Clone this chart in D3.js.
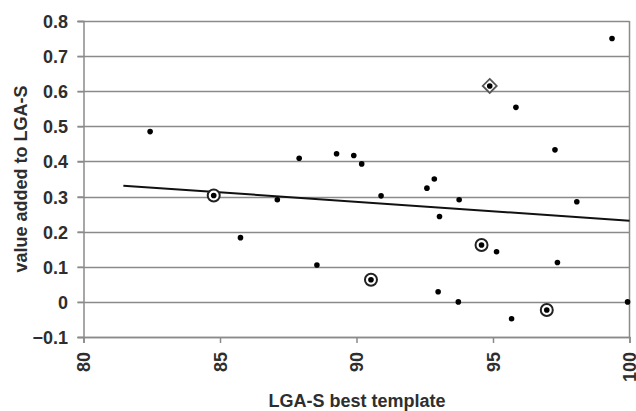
<!DOCTYPE html>
<html><head><meta charset="utf-8">
<script src="https://cdn.jsdelivr.net/npm/d3@7"></script>
<style>body{margin:0;background:#fff}svg{display:block}</style>
</head><body>
<svg id="c" width="636" height="411"></svg>
<script>
const xs = [82.44,84.77,87.10,87.90,85.75,88.55,89.27,89.90,90.19,90.90,92.58,92.85,93.76,94.88,95.84,97.27,98.07,99.36,93.04,94.58,95.13,97.36,90.53,92.99,93.73,95.68,96.97,99.93];
const ys = [0.485,0.303,0.291,0.409,0.183,0.105,0.422,0.417,0.393,0.302,0.324,0.350,0.291,0.615,0.554,0.433,0.285,0.750,0.243,0.162,0.143,0.112,0.063,0.029,0.0,-0.048,-0.023,0.0];
const markers = ["","circle","","","","","","","","","","","","diamond","","","","","","circle","","","circle","","","","circle",""];
const trendX = [81.46, 100];
const trendY = [0.331, 0.231];
const xTicks = [80,85,90,95,100];
const yTicks = [-0.1,0,0.1,0.2,0.3,0.4,0.5,0.6,0.7,0.8];

const svg = d3.select("#c");
const L=83.5, R=629.5, T=21, B=337;
const x = d3.scaleLinear().domain([80,100]).range([L,R]);
const y = d3.scaleLinear().domain([-0.1,0.8]).range([B,T]);
const grey="#8a8a8a", txt="#2e2e2e";
const font="'Liberation Sans', Arial, sans-serif";

// gridlines
svg.append("g").selectAll("line").data(yTicks).join("line")
  .attr("x1",L-6).attr("x2",R).attr("y1",d=>Math.round(y(d))+0.5).attr("y2",d=>Math.round(y(d))+0.5)
  .attr("stroke",grey).attr("stroke-width",1.5);
// right border
svg.append("line").attr("x1",R).attr("x2",R).attr("y1",T).attr("y2",B).attr("stroke",grey).attr("stroke-width",1.5);

// y axis
const ya = svg.append("g").attr("transform",`translate(${L},0)`)
  .call(d3.axisLeft(y).tickValues(yTicks).tickSize(6).tickFormat(d=>d===0?"0":d3.format(".1f")(d)));
ya.select(".domain").attr("stroke",grey).attr("stroke-width",1.5);
ya.selectAll(".tick line").attr("stroke",grey).attr("stroke-width",1.5);
ya.selectAll("text").attr("font-family",font).attr("font-weight","bold").attr("font-size",18).attr("fill",txt).attr("x",-15.5).attr("dy","0.36em");

// x axis
const xa = svg.append("g").attr("transform",`translate(0,${B})`)
  .call(d3.axisBottom(x).tickValues(xTicks).tickSize(6).tickFormat(d3.format("d")));
xa.select(".domain").attr("stroke",grey).attr("stroke-width",1.5);
xa.selectAll(".tick line").attr("stroke",grey).attr("stroke-width",1.5);
xa.selectAll("text").attr("font-family",font).attr("font-weight","bold").attr("font-size",18).attr("fill",txt)
  .attr("transform","rotate(-90)").attr("x",-15).attr("y",0).attr("dy","0.36em").attr("text-anchor","end");

// trend line
svg.append("line").attr("x1",x(trendX[0])).attr("y1",y(trendY[0])).attr("x2",x(trendX[1])).attr("y2",y(trendY[1]))
  .attr("stroke","#111").attr("stroke-width",2);

// points
const pts = xs.map((v,i)=>({x:v,y:ys[i],m:markers[i]}));
const g = svg.append("g");
g.selectAll("circle.ring").data(pts.filter(p=>p.m==="circle")).join("circle")
  .attr("cx",d=>x(d.x)).attr("cy",d=>y(d.y)).attr("r",6).attr("fill","#fff").attr("stroke","#222").attr("stroke-width",2);
g.selectAll("path.dia").data(pts.filter(p=>p.m==="diamond")).join("path")
  .attr("d",d=>{const cx=x(d.x),cy=y(d.y),r=7;return `M${cx},${cy-r}L${cx+r},${cy}L${cx},${cy+r}L${cx-r},${cy}Z`;})
  .attr("fill","#fff").attr("stroke","#555").attr("stroke-width",1.8);
g.selectAll("circle.dot").data(pts).join("circle")
  .attr("cx",d=>x(d.x)).attr("cy",d=>y(d.y)).attr("r",2.8).attr("fill","#000");

// titles
svg.append("text").attr("x",357).attr("y",407).attr("text-anchor","middle")
  .attr("font-family",font).attr("font-weight","bold").attr("font-size",18).attr("fill",txt).text("LGA-S best template");
svg.append("text").attr("transform","translate(27,179) rotate(-90)").attr("text-anchor","middle")
  .attr("font-family",font).attr("font-weight","bold").attr("font-size",18).attr("fill",txt).text("value added to LGA-S");
</script>
</body></html>
